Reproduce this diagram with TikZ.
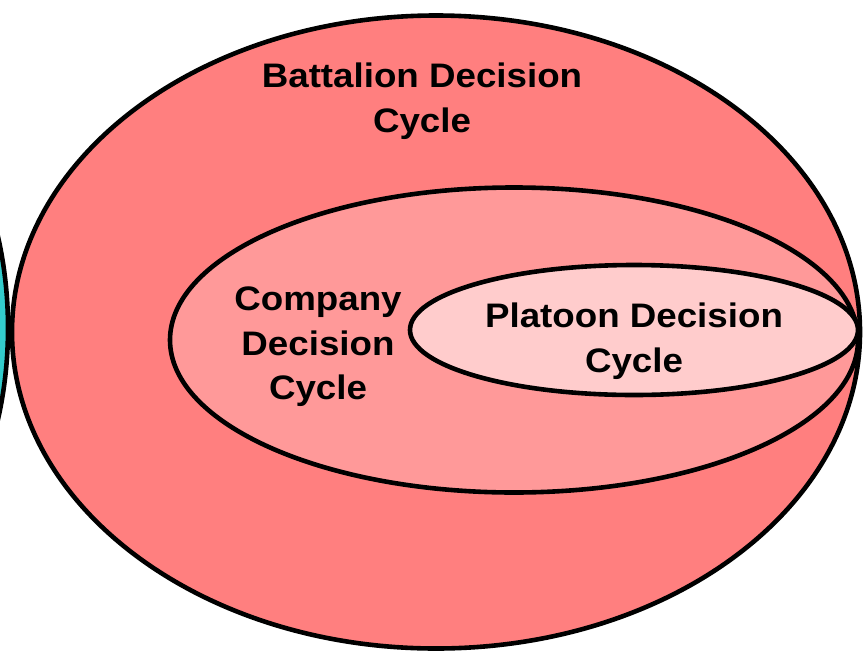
\documentclass[tikz,border=0pt]{standalone}
\usepackage{fontspec}
\setmainfont{Liberation Sans}[FakeStretch=1.08]
\usetikzlibrary{shapes.geometric}
\definecolor{tealc}{HTML}{33CCCC}
\definecolor{batc}{HTML}{FF7F7F}
\definecolor{compc}{HTML}{FF9999}
\definecolor{platc}{HTML}{FFCCCC}
\tikzset{
  ring/.style={ellipse, draw=black, line width=4.6pt, inner sep=0pt},
  lbl/.style={font=\bfseries\fontsize{34}{44.5}\selectfont, align=center, text=black, inner sep=0pt}
}
\begin{document}
\begin{tikzpicture}[x=1pt,y=-1pt]
\useasboundingbox (0,0) rectangle (866,653);
\clip (0,0) rectangle (866,653);
\node[ring, fill=tealc, minimum width=316pt, minimum height=520pt] (teal) at (-150,328) {};
\node[ring, fill=batc, minimum width=848pt, minimum height=633pt] (bat) at (436,332) {};
\node[ring, fill=compc, minimum width=688pt, minimum height=305pt] (comp) at (514,340) {};
\node[ring, fill=platc, minimum width=448pt, minimum height=130pt] (plat) at (634,330) {};
\node[lbl] (batl) at (422,101) {Battalion Decision\\Cycle};
\node[lbl] (compl) at (318,347) {Company\\Decision\\Cycle};
\node[lbl] (platl) at (634,341) {Platoon Decision\\Cycle};
\end{tikzpicture}
\end{document}
